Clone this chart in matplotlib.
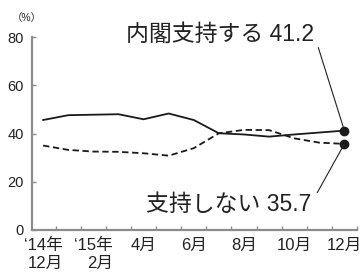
import matplotlib
matplotlib.use("Agg")
import matplotlib.pyplot as plt
import numpy as np

plt.rcParams['font.family'] = ['Liberation Sans', 'Noto Sans CJK JP', 'DejaVu Sans']

# months from Dec 2014 (0) to Dec 2015 (12)
months = np.arange(13)
support = [45.6, 47.6, 47.8, 48.0, 45.9, 48.3, 45.6, 40.1, 39.6, 38.7, 39.6, 40.4, 41.2]
nonsupport = [35.0, 33.2, 32.5, 32.4, 31.8, 30.8, 33.9, 40.1, 41.5, 41.4, 38.0, 36.2, 35.7]
tick_pos = [0, 2, 4, 6, 8, 10, 12]
tick_labels = ['‘14年\n12月', '‘15年\n2月', '4月', '6月', '8月', '10月', '12月']
yticks = [0, 20, 40, 60, 80]

grey = '#8c8c8c'
fig = plt.figure(figsize=(3.62, 2.79), dpi=100)
ax = fig.add_axes([0.088, 0.176, 0.898, 0.691])

ax.plot(months, support, '-', color='#1a1a1a', lw=1.3)
ax.plot(months, nonsupport, '--', color='#1a1a1a', lw=1.3, dashes=(3.5, 2))
ax.plot([months[-1]], [support[-1]], 'o', color='#1a1a1a', ms=6)
ax.plot([months[-1]], [nonsupport[-1]], 'o', color='#1a1a1a', ms=6)

ax.set_xlim(-0.45, 12.5)
ax.set_ylim(0, 80)
for s in ['top', 'right']:
    ax.spines[s].set_visible(False)
for s in ['left', 'bottom']:
    ax.spines[s].set_color(grey)
    ax.spines[s].set_linewidth(1.6)

ax.set_yticks(yticks)
ax.tick_params(axis='y', direction='in', length=3, width=1, color=grey,
               labelsize=10.5, pad=6, labelcolor='#222222')
ax.set_xticks(tick_pos)
ax.set_xticklabels(tick_labels, linespacing=1.25, multialignment='right')
ax.set_xticks(np.arange(0.5, 12.6, 1), minor=True)
ax.tick_params(axis='x', which='major', length=0, labelsize=12, pad=6, labelcolor='#222222')
ax.tick_params(axis='x', which='minor', direction='in', length=3, width=1, color=grey)

fig.text(0.033, 0.935, '（%）', fontsize=7.5, color='#222222', va='center', ha='left')

ax.annotate('内閣支持する 41.2', xy=(months[-1], support[-1]), xytext=(10.8, 81),
            ha='right', va='center', fontsize=16.5, color='#222222', annotation_clip=False,
            arrowprops=dict(arrowstyle='-', color='#222222', lw=0.8,
                            relpos=(1, 0.5), shrinkA=3, shrinkB=0))
ax.annotate('支持しない 35.7', xy=(months[-1], nonsupport[-1]), xytext=(10.7, 10.4),
            ha='right', va='center', fontsize=16.5, color='#222222', annotation_clip=False,
            arrowprops=dict(arrowstyle='-', color='#222222', lw=0.8,
                            relpos=(1, 0.6), shrinkA=4, shrinkB=0))

fig.savefig('out.png', dpi=100)
